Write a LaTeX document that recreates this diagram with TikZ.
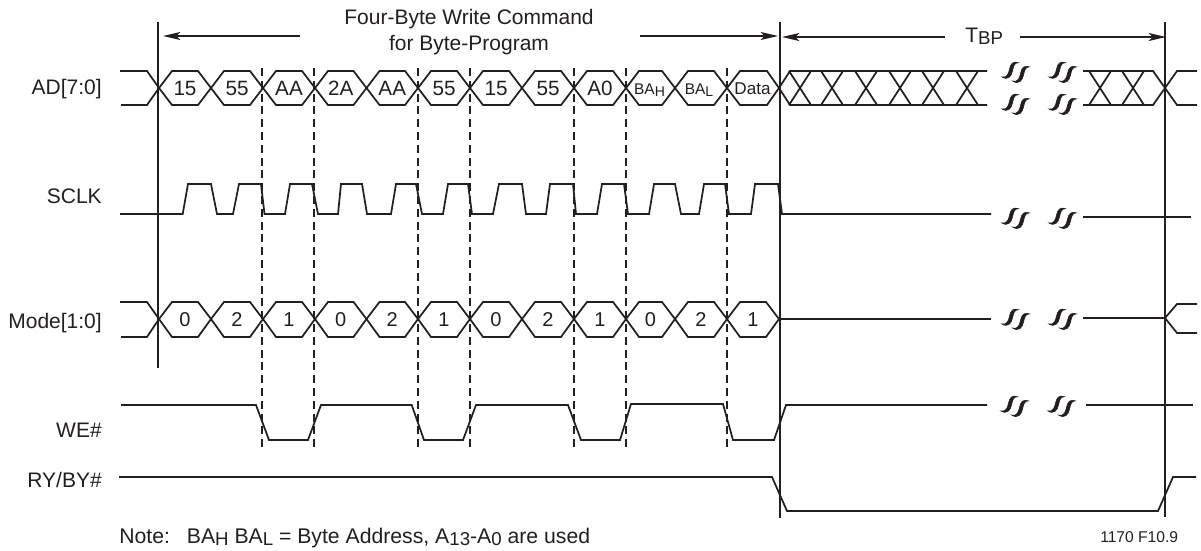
\documentclass[tikz,border=0pt]{standalone}
\usepackage{fontspec}
\setmainfont{Liberation Sans}
\usetikzlibrary{arrows.meta}
\definecolor{ink}{HTML}{231F20}
\newcommand\fs[1]{\fontsize{#1}{#1}\selectfont}
\newcommand\lowsub[2]{\raisebox{-0.12em}{\fs{#1}#2}}
\tikzset{
  wave/.style={draw=ink,line width=1.3pt,line join=miter},
  marker/.style={draw=ink,line width=1.3pt},
  guide/.style={draw=ink,line width=1.3pt,dash pattern=on 6pt off 3.6pt},
  span/.style={draw=ink,line width=1.3pt,-{Stealth[length=13pt,width=6pt,inset=3pt]}},
  siglabel/.style={anchor=base east,inner sep=0pt,text=ink,font=\fs{15.75}},
  plaintext/.style={anchor=base west,inner sep=0pt,text=ink,font=\fs{15.75}},
  title/.style={anchor=base,inner sep=0pt,text=ink,font=\fs{15.75}},
  adval/.style={anchor=base,inner sep=0pt,text=ink,font=\fs{15.5}},
  modeval/.style={anchor=base,inner sep=0pt,text=ink,font=\fs{15}},
  pics/brk/.style={code={
    \foreach \s/\t in {0/0,11/4.2}{
      \filldraw[ink,line width=0.4pt,shift={(\s,\t)}] (-13.5,5.8) .. controls (-7.5,7.5) and (-6.5,2) .. (-5.5,-2)
        .. controls (-4.5,-7) and (-2,-10.5) .. (3.5,-8.3)
        .. controls (-1,-8.5) and (-1.5,-4) .. (-2.5,0)
        .. controls (-3.5,5) and (-7,10) .. cycle;
    }
  }}
}
\begin{document}
\begin{tikzpicture}[x=0.75pt,y=-0.75pt]
\useasboundingbox (0,0) rectangle (1201,550);
\fill[white] (0,0) rectangle (1201,550);

% vertical markers
\coordinate (m1t) at (158,22); \coordinate (m1b) at (158,368);
\coordinate (m2t) at (780,22); \coordinate (m2b) at (780,518);
\coordinate (m3t) at (1165,22);  \coordinate (m3b) at (1165,517);
\draw[marker] (m1t) -- (m1b);
\draw[marker] (m2t) -- (m2b);
\draw[marker] (m3t) -- (m3b);

% dashed guides
\foreach \x in {262,314,418,470,574,626,727}{
  \draw[guide] (\x,68) -- (\x,449);
}

% span arrows
\coordinate (a1s) at (300,36);  \coordinate (a1e) at (163,36);
\coordinate (a2s) at (640,36);  \coordinate (a2e) at (778,36);
\coordinate (a3s) at (945,37);  \coordinate (a3e) at (782,37);
\coordinate (a4s) at (1020,37); \coordinate (a4e) at (1166,37);
\draw[span] (a1s) -- (a1e);
\draw[span] (a2s) -- (a2e);
\draw[span] (a3s) -- (a3e);
\draw[span] (a4s) -- (a4e);

% titles
\node[title] (t1) at (469,24) {Four-Byte Write Command};
\node[title] (t2) at (469,50) {for Byte-Program};
\node[plaintext] (tbp) at (965,42) {T\lowsub{14}{BP}};

% signal labels
\node[siglabel] (ad) at (102,94) {AD[7:0]};
\node[siglabel] (sclk) at (102,203) {SCLK};
\node[siglabel] (mode) at (102,328) {Mode[1:0]};
\node[siglabel] (we) at (102,437) {WE\#};
\node[siglabel] (ry) at (102,487) {RY/BY\#};

% AD bus
\draw[wave] (120,71) -- (147,71) -- (159,88) -- (147,105) -- (121,105);
\foreach \a/\b/\t [count=\i] in {159/211/15,211/263/55,263/315/AA,315/366.5/2A,366.5/418/AA,418/470/55,470/522/15,522/574/55,574/626/A0}{
  \draw[wave] (\a,88) -- ({\a+13},71) -- ({\b-13},71) -- (\b,88) -- ({\b-13},105) -- ({\a+13},105) -- cycle;
  \node[adval] (ad\i) at ({(\a+\b)/2},95) {\t};
}
\draw[wave] (626,88) -- (639,71) -- (662,71) -- (675,88) -- (662,105) -- (639,105) -- cycle;
\node[adval,font=\fs{11.6}] (ad10) at (649.5,94.5) {BA\lowsub{10.5}{H}};
\draw[wave] (675,88) -- (688,71) -- (714,71) -- (727,88) -- (714,105) -- (688,105) -- cycle;
\node[adval,font=\fs{11.6}] (ad11) at (699,94.5) {BA\lowsub{10.5}{L}};
\draw[wave] (727,88) -- (740,71) -- (767,71) -- (779,88) -- (767,105) -- (740,105) -- cycle;
\node[adval,font=\fs{12.8}] (ad12) at (752.5,94.5) {Data};

% AD hatch
\draw[wave] (779,88) -- (790,71) -- (987,71);
\draw[wave] (779,88) -- (790,105) -- (987,105);
\foreach \x in {800,832,866,900,933,967}{
  \draw[wave] ({\x-11},71) -- ({\x+11},105);
  \draw[wave] ({\x+11},71) -- ({\x-11},105);
}
\draw[wave] (1083,71) -- (1153,71) -- (1177,105) -- (1197,105);
\draw[wave] (1083,105) -- (1153,105) -- (1177,71) -- (1197,71);
\foreach \x in {1100,1133}{
  \draw[wave] ({\x-11},71) -- ({\x+11},105);
  \draw[wave] ({\x+11},71) -- ({\x-11},105);
}

% SCLK
\draw[wave] (120,214) -- (182.7,214) -- (188,184) -- (211,184) -- (217,214)
  -- (233,214) -- (239,184) -- (261,184) -- (264.5,214)
  -- (285,214) -- (290,184) -- (312,184) -- (318,214)
  -- (338,214) -- (341,184) -- (362,184) -- (367,214)
  -- (391,214) -- (396,184) -- (416,184) -- (422,214)
  -- (443,214) -- (448,184) -- (468,184) -- (472,214)
  -- (493,214) -- (499,184) -- (522,184) -- (526,214)
  -- (546,214) -- (550,184) -- (573,184) -- (576,214)
  -- (597,214) -- (602,184) -- (624,184) -- (628,214)
  -- (649,214) -- (654,184) -- (675,184) -- (681,214)
  -- (699,214) -- (704,184) -- (725,184) -- (729,214)
  -- (751,214) -- (755,184) -- (778,184) -- (782,214) -- (991,214);
\draw[wave] (1083,217) -- (1191,217);

% Mode bus
\draw[wave] (120,302) -- (147,302) -- (159,319) -- (147,337) -- (121,337);
\foreach \a/\b/\t [count=\i] in {159/211/0,211/263/2,263/315/1,315/366.5/0,366.5/418/2,418/470/1,470/522/0,522/574/2,574/626/1,626/675/0,675/727/2,727/779/1}{
  \draw[wave] (\a,319) -- ({\a+13},302) -- ({\b-13},302) -- (\b,319) -- ({\b-13},337) -- ({\a+13},337) -- cycle;
  \node[modeval] (md\i) at ({(\a+\b)/2},326) {\t};
}
\draw[wave] (779,319) -- (991,319);
\draw[wave] (1083,318) -- (1165,318);
\draw[wave] (1197,304) -- (1177,304) -- (1165,318) -- (1177,333) -- (1197,333);

% WE#
\draw[wave] (121,405) -- (256,405) -- (269,440) -- (308,440) -- (321,405)
  -- (411.7,405) -- (424,440) -- (463,440) -- (476,405)
  -- (568,405) -- (581,440) -- (620,440) -- (631,404)
  -- (723,404) -- (733,440) -- (774,440) -- (786,405) -- (987,405);
\draw[wave] (1086,405) -- (1193,405);

% RY/BY#
\draw[wave] (119,477) -- (772,477) -- (787,511) -- (1158,511) -- (1173,477) -- (1196,477);

% break glyphs
\foreach \x in {1015,1062}{
  \foreach \y in {71,103,217,318}{
    \pic at (\x,\y) {brk};
  }
  \pic at ({\x-1},405) {brk};
}

% notes
\node[plaintext,font=\fs{15.9}] (note) at (119,543) {Note:\hspace{0.8em}BA\lowsub{14}{H} BA\lowsub{14}{L} = Byte Address, A\lowsub{14}{13}-A\lowsub{14}{0} are used};
\node[plaintext,font=\fs{11.7}] (fig) at (1100,542) {1170 F10.9};
\end{tikzpicture}
\end{document}
